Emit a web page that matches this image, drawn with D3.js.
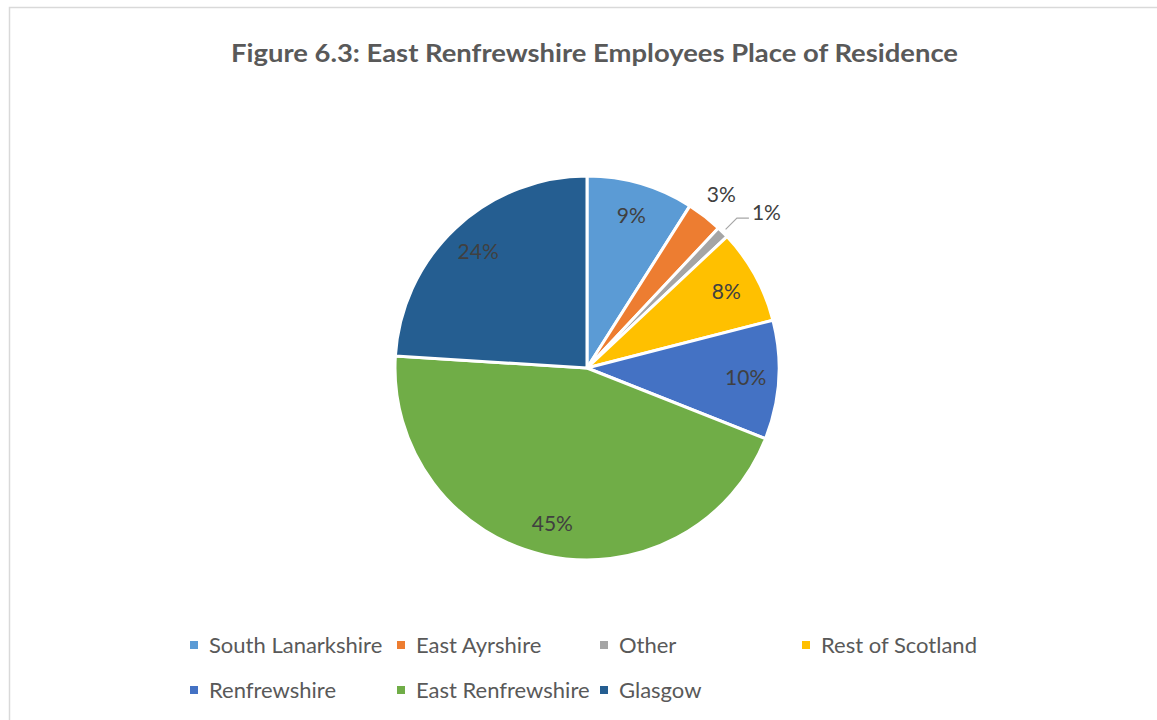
<!DOCTYPE html>
<html>
<head>
<meta charset="utf-8">
<script src="https://cdn.jsdelivr.net/npm/d3@7"></script>
<style>
  html, body { margin: 0; padding: 0; background: #ffffff; }
  svg { display: block; }
</style>
</head>
<body>
<svg id="chart" width="1157" height="720"></svg>
<script>
// Employees of East Renfrewshire by council area of residence (%)
const categories = ["South Lanarkshire", "East Ayrshire", "Other", "Rest of Scotland",
                    "Renfrewshire", "East Renfrewshire", "Glasgow"];
const shares = [9, 3, 1, 8, 10, 45, 24];
const colours = ["#5B9BD5", "#ED7D31", "#A5A5A5", "#FFC000", "#4472C4", "#70AD47", "#255E91"];
const titleText = "Figure 6.3: East Renfrewshire Employees Place of Residence";

const svg = d3.select("#chart");
const font = "Lato, 'Open Sans', sans-serif";

// chart-area frame
svg.append("rect")
  .attr("x", 9.5).attr("y", 7.5)
  .attr("width", 1170).attr("height", 730)
  .attr("fill", "#ffffff")
  .attr("stroke", "#d9d9d9").attr("stroke-width", 1.5);

// title
svg.append("text")
  .attr("x", 594.5).attr("y", 62)
  .attr("text-anchor", "middle")
  .attr("font-family", font).attr("font-weight", "bold")
  .attr("font-size", 24)
  .attr("fill", "#595959")
  .attr("textLength", 727).attr("lengthAdjust", "spacingAndGlyphs")
  .text(titleText);

// pie
const cx = 587, cy = 368, radius = 192;
const data = categories.map((c, i) => ({ name: c, value: shares[i], colour: colours[i] }));
const pie = d3.pie().sort(null).value(d => d.value);
const arcs = pie(data);
const arc = d3.arc().innerRadius(0).outerRadius(radius);

const g = svg.append("g").attr("transform", `translate(${cx},${cy})`);
g.selectAll("path.slice")
  .data(arcs)
  .join("path")
  .attr("class", "slice")
  .attr("d", arc)
  .attr("fill", d => d.data.colour)
  .attr("stroke", "#ffffff")
  .attr("stroke-width", 3)
  .attr("stroke-linejoin", "round");

// data labels: inside for large slices, outside for small ones
const mid = d => (d.startAngle + d.endAngle) / 2;
const polar = (a, r) => [Math.sin(a) * r, -Math.cos(a) * r];
const labelSize = 21;

arcs.forEach(d => {
  const a = mid(d);
  const label = d.data.value + "%";
  if (d.data.value >= 5) {
    const [x, y] = polar(a, 159);
    g.append("text")
      .attr("x", x).attr("y", y)
      .attr("dy", "0.35em")
      .attr("text-anchor", "middle")
      .attr("font-family", font).attr("font-size", labelSize)
      .attr("fill", "#404040")
      .text(label);
  } else if (d.data.value >= 2) {
    const [x, y] = polar(a, 219);
    g.append("text")
      .attr("x", x).attr("y", y)
      .attr("dy", "0.35em")
      .attr("text-anchor", "middle")
      .attr("font-family", font).attr("font-size", labelSize)
      .attr("fill", "#404040")
      .text(label);
  } else {
    const p0 = polar(a, 196);
    const p1 = polar(a, 212);
    const p2 = [p1[0] + 12, p1[1]];
    g.append("polyline")
      .attr("points", [p0, p1, p2].map(p => p.join(",")).join(" "))
      .attr("fill", "none")
      .attr("stroke", "#a6a6a6").attr("stroke-width", 1.2);
    g.append("text")
      .attr("x", p2[0] + 3).attr("y", p2[1] - 5)
      .attr("dy", "0.35em")
      .attr("text-anchor", "start")
      .attr("font-family", font).attr("font-size", labelSize)
      .attr("fill", "#404040")
      .text(label);
  }
});

// legend: four columns, two rows
const colX = [190, 397, 600, 802];
const rowY = [645, 690];
const legend = svg.append("g");
data.forEach((d, i) => {
  const col = i % 4, row = Math.floor(i / 4);
  const item = legend.append("g")
    .attr("transform", `translate(${colX[col]},${rowY[row]})`);
  item.append("rect")
    .attr("x", 0).attr("y", -4).attr("width", 8).attr("height", 8)
    .attr("fill", d.colour);
  item.append("text")
    .attr("x", 19).attr("y", 0).attr("dy", "0.35em")
    .attr("font-family", font).attr("font-size", 22)
    .attr("fill", "#595959")
    .text(d.name);
});
</script>
</body>
</html>
